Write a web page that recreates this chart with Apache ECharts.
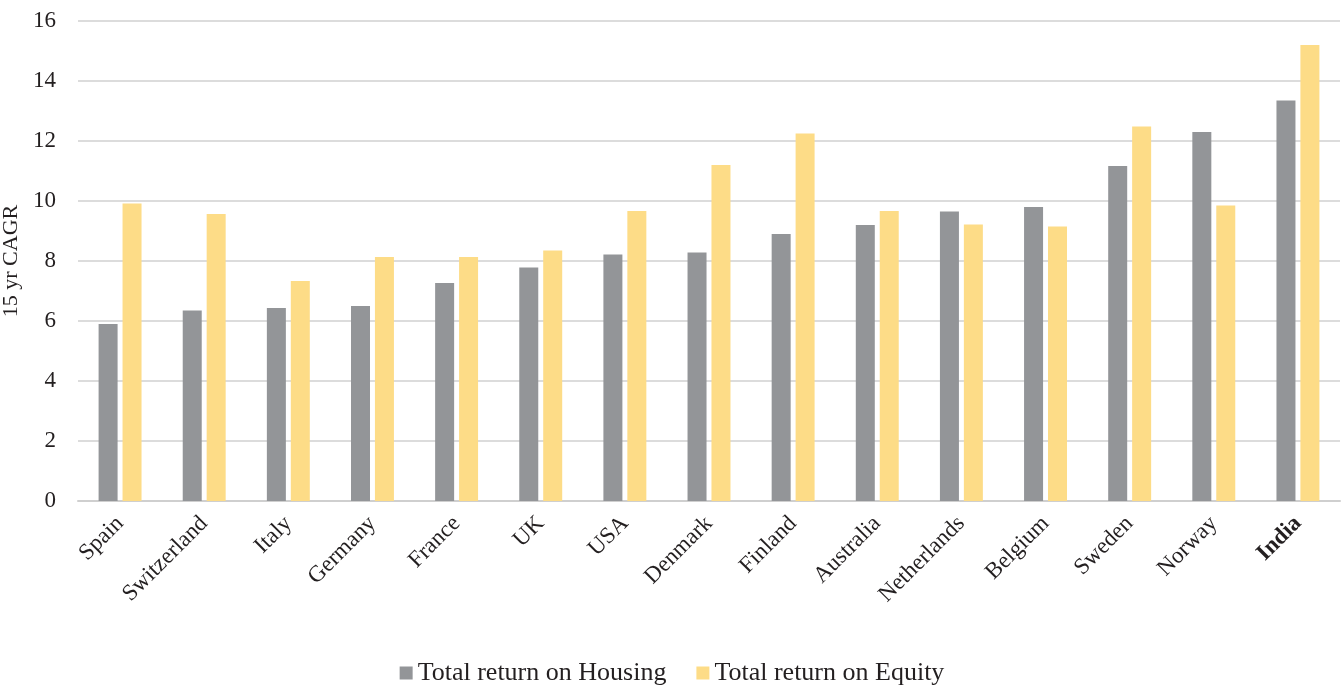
<!DOCTYPE html>
<html>
<head>
    <meta charset="utf-8">
    <title>15 yr CAGR</title>
    <style>
        html, body { margin: 0; padding: 0; background: #fff; }
        #charts { width: 1344px; height: 688px; }
    </style>
</head>
<body>
    <div id="charts"></div>
</body>
<script type="text/javascript" src="https://cdn.jsdelivr.net/npm/echarts@6/dist/echarts.min.js"></script>
<script type="text/javascript">
var countries = ['Spain', 'Switzerland', 'Italy', 'Germany', 'France', 'UK', 'USA', 'Denmark',
    'Finland', 'Australia', 'Netherlands', 'Belgium', 'Sweden', 'Norway', 'India'];
var housing = [5.9, 6.35, 6.43, 6.5, 7.27, 7.78, 8.22, 8.28, 8.9, 9.2, 9.65, 9.8, 11.17, 12.3, 13.35];
var equity = [9.92, 9.57, 7.33, 8.13, 8.13, 8.35, 9.67, 11.2, 12.25, 9.67, 9.22, 9.15, 12.48, 9.85, 15.2];
var yTicks = [0, 2, 4, 6, 8, 10, 12, 14, 16];

var font = '"Liberation Serif", "DejaVu Serif", serif';
var myChart = echarts.init(document.getElementById('charts'));

var option = {
    textStyle: { fontFamily: font },
    color: ['#939598', '#fddc87'],
    animation: false,
    legend: {
        data: ['Total return on Housing', 'Total return on Equity'],
        top: 655,
        left: 'center',
        itemWidth: 13,
        itemHeight: 13,
        itemGap: 30,
        icon: 'rect',
        textStyle: { fontFamily: font, fontSize: 26, color: '#231f20' }
    },
    grid: {
        left: 78,
        right: 4,
        top: 21,
        bottom: 187,
        outerBoundsMode: 'none'
    },
    xAxis: {
        type: 'category',
        data: countries,
        axisTick: { show: false },
        axisLine: { lineStyle: { color: '#cfcfcf', width: 2 } },
        axisLabel: {
            interval: 0,
            rotate: 45,
            margin: 19,
            fontSize: 23,
            color: '#231f20',
            fontFamily: font,
            formatter: function (v) {
                return v === 'India' ? '{b|' + v + '}' : v;
            },
            rich: {
                b: { fontWeight: 'bold', fontSize: 23, fontFamily: font, color: '#231f20' }
            }
        }
    },
    yAxis: {
        type: 'value',
        min: yTicks[0],
        max: yTicks[yTicks.length - 1],
        interval: 2,
        name: '15 yr CAGR',
        nameLocation: 'middle',
        nameGap: 48,
        nameTextStyle: { fontSize: 22, color: '#231f20', fontFamily: font },
        axisLabel: { fontSize: 23, color: '#231f20', margin: 22, fontFamily: font },
        axisLine: { show: false },
        axisTick: { show: false },
        splitLine: { lineStyle: { color: '#d0d0d0', width: 1.5 } }
    },
    series: [
        {
            name: 'Total return on Housing',
            type: 'bar',
            data: housing,
            barWidth: 19,
            barGap: '26%'
        },
        {
            name: 'Total return on Equity',
            type: 'bar',
            data: equity,
            barWidth: 19,
            barGap: '26%'
        }
    ]
};

myChart.setOption(option);
</script>
</html>
